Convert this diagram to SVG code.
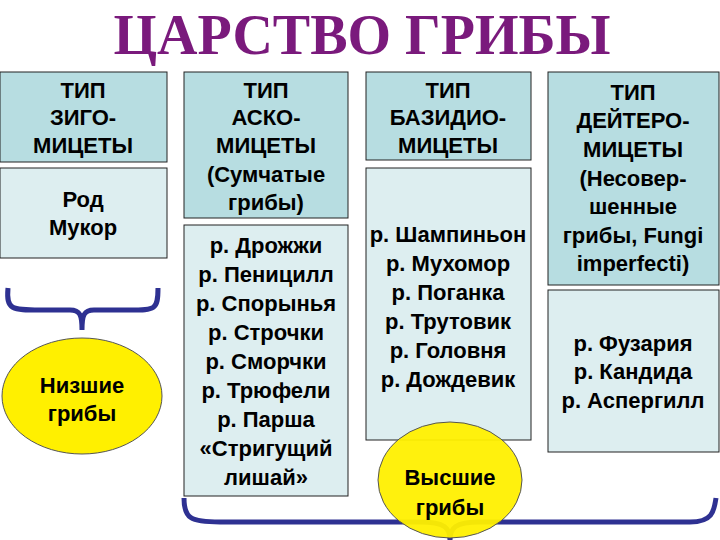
<svg xmlns="http://www.w3.org/2000/svg" width="720" height="540" viewBox="0 0 720 540">
<style>
.h{fill:#B7DDE1;stroke:#222;stroke-width:1}
.l{fill:#DDEEF0;stroke:#222;stroke-width:1}
.t{font-family:"Liberation Sans",Arial,sans-serif;font-weight:bold;font-size:22px;fill:#000;text-anchor:middle}
.e{fill:#FFF000;stroke:#555;stroke-width:1}
.b{fill:none;stroke:#2E3192;stroke-width:5}
</style>
<rect width="720" height="540" fill="#fff"/>
<text x="362" y="54" font-family="Liberation Serif,serif" font-weight="bold" font-size="56" fill="#7A1A7C" text-anchor="middle">ЦАРСТВО ГРИБЫ</text>
<g id="zygo"><rect class="h" x="0" y="72" width="167" height="90"/>
<text class="t"><tspan x="83" y="98">ТИП</tspan><tspan x="83" y="125">ЗИГО-</tspan><tspan x="83" y="153">МИЦЕТЫ</tspan></text></g>
<g id="mukor"><rect class="l" x="0" y="168" width="167" height="90"/>
<text class="t"><tspan x="83" y="207">Род</tspan><tspan x="83" y="235">Мукор</tspan></text></g>
<g id="asco"><rect class="h" x="184" y="72" width="164" height="146"/>
<text class="t"><tspan x="266" y="98">ТИП</tspan><tspan x="266" y="125">АСКО-</tspan><tspan x="266" y="153">МИЦЕТЫ</tspan><tspan x="266" y="182">(Сумчатые</tspan><tspan x="266" y="210">грибы)</tspan></text></g>
<g id="ascolist"><rect class="l" x="184" y="225" width="164" height="271"/>
<text class="t"><tspan x="266" y="253">р. Дрожжи</tspan><tspan x="266" y="282">р. Пеницилл</tspan><tspan x="266" y="311">р. Спорынья</tspan><tspan x="266" y="340">р. Строчки</tspan><tspan x="266" y="369">р. Сморчки</tspan><tspan x="266" y="398">р. Трюфели</tspan><tspan x="266" y="427">р. Парша</tspan><tspan x="266" y="456">«Стригущий</tspan><tspan x="266" y="485">лишай»</tspan></text></g>
<g id="basid"><rect class="h" x="366" y="72" width="165" height="88"/>
<text class="t"><tspan x="448" y="98">ТИП</tspan><tspan x="448" y="125">БАЗИДИО-</tspan><tspan x="448" y="153">МИЦЕТЫ</tspan></text></g>
<g id="basidlist"><rect class="l" x="366" y="168" width="165" height="272"/>
<text class="t"><tspan x="448" y="242">р. Шампиньон</tspan><tspan x="448" y="271">р. Мухомор</tspan><tspan x="448" y="300">р. Поганка</tspan><tspan x="448" y="329">р. Трутовик</tspan><tspan x="448" y="358">р. Головня</tspan><tspan x="448" y="387">р. Дождевик</tspan></text></g>
<g id="deut"><rect class="h" x="548" y="72" width="171" height="213"/>
<text class="t"><tspan x="633" y="100">ТИП</tspan><tspan x="633" y="128">ДЕЙТЕРО-</tspan><tspan x="633" y="157">МИЦЕТЫ</tspan><tspan x="633" y="186">(Несовер-</tspan><tspan x="633" y="214">шенные</tspan><tspan x="633" y="243">грибы, Fungi</tspan><tspan x="633" y="271">imperfecti)</tspan></text></g>
<g id="deutlist"><rect class="l" x="548" y="290" width="171" height="162"/>
<text class="t"><tspan x="633" y="351">р. Фузария</tspan><tspan x="633" y="379">р. Кандида</tspan><tspan x="633" y="408">р. Аспергилл</tspan></text></g>
<g id="connectors">
<path class="b" d="M8,288 C6,310 12,310 40,310 L70,310 C80,310 82,315 82,330 C82,315 84,310 94,310 L130,310 C155,310 158,310 158,288"/>
<path class="b" d="M184,498 C184,518 190,522 220,522 L420,522 C445,522 450,528 450,540 C450,528 455,522 480,522 L690,522 C712,522 714,512 716,498"/>
</g>
<g id="low"><ellipse class="e" cx="82" cy="396" rx="80" ry="58"/>
<text class="t"><tspan x="82" y="393">Низшие</tspan><tspan x="82" y="421">грибы</tspan></text></g>
<g id="high"><ellipse class="e" cx="450" cy="480" rx="72" ry="58" fill-opacity="0.95"/>
<text class="t"><tspan x="450" y="485">Высшие</tspan><tspan x="450" y="515">грибы</tspan></text></g>
</svg>
